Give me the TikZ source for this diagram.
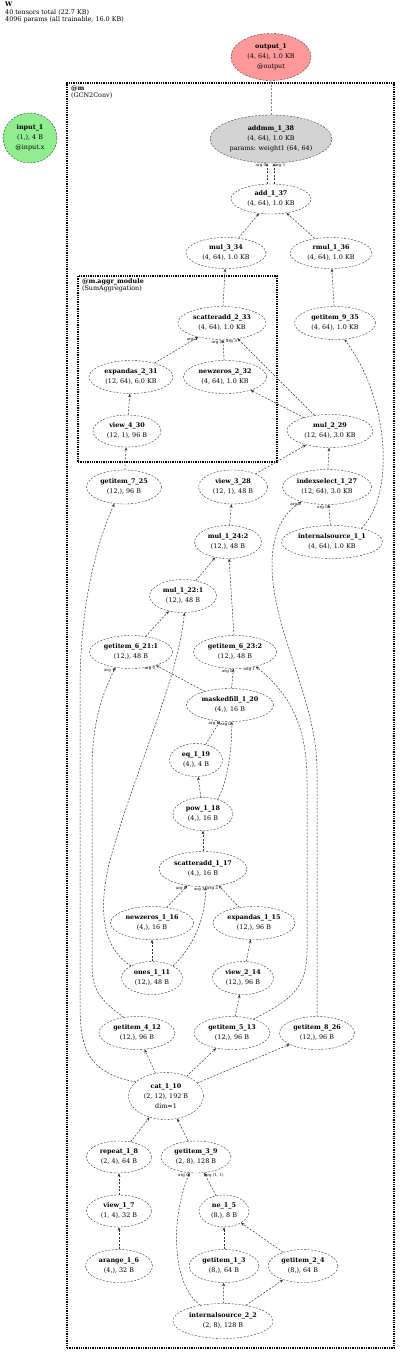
\documentclass[tikz,border=0pt]{standalone}
\usepackage{fontspec}
\setmainfont{DejaVu Serif}
\usetikzlibrary{arrows.meta,shapes.geometric,fit,calc}
\definecolor{outred}{RGB}{255,153,153}
\definecolor{ingreen}{RGB}{144,238,144}
\definecolor{paramgray}{RGB}{211,211,211}
\definecolor{edgegray}{RGB}{50,50,50}

\begin{document}
\begin{tikzpicture}[
    x=1pt, y=1pt,
    tensor/.style={draw=edgegray, dash pattern=on 2pt off 1.5pt, ellipse, inner sep=0pt, align=center, minimum height=33pt, font=\fontsize{6.4}{10}\selectfont},
    module/.style={draw=black, line width=2.2pt, dash pattern=on 1.3pt off 1pt, inner sep=0pt},
    modlbl/.style={anchor=north west, align=left, inner sep=0pt, font=\fontsize{6.4}{7.4}\selectfont},
    flow/.style={draw=edgegray, line width=0.5pt, dash pattern=on 2pt off 1.5pt, -{Stealth[length=3.5pt, width=2.8pt]}},
    arglbl/.style={font=\fontsize{4}{4}\selectfont, inner sep=0.5pt}
]
\useasboundingbox (0,0) rectangle (400,-1356);

\node[modlbl] (title) at (5,-2) {\textbf{W}\\40 tensors total (22.7 KB)\\4096 params (all trainable, 16.0 KB)};

% module boxes
\node[module, fit={(67,-83) (394,-1348)}] (mbox) {};
\node[modlbl] (mname) at ([xshift=5pt,yshift=-3.5pt]mbox.north west) {\textbf{@m}\\(GCN2Conv)};
\node[module, fit={(78,-276) (277,-462)}] (aggbox) {};
\node[modlbl] (aggname) at ([xshift=5pt,yshift=-3.5pt]aggbox.north west) {\textbf{@m.aggr\_module}\\(SumAggregation)};

% tensors
\node[tensor, fill=outred, minimum width=80pt, minimum height=47pt] (output) at (271,-57) {\textbf{output\_1}\\(4, 64), 1.0 KB\\@output};
\node[tensor, fill=ingreen, minimum width=54pt, minimum height=50pt] (input) at (30,-138) {\textbf{input\_1}\\(1,), 4 B\\@input.x};
\node[tensor, fill=paramgray, minimum width=122pt, minimum height=48pt] (addmm) at (271,-139) {\textbf{addmm\_1\_38}\\(4, 64), 1.0 KB\\params: weight1 (64, 64)};
\node[tensor, minimum width=80pt, minimum height=30pt] (add) at (271,-199) {\textbf{add\_1\_37}\\(4, 64), 1.0 KB};
\node[tensor, minimum width=80pt, minimum height=31pt] (mul3) at (226,-253) {\textbf{mul\_3\_34}\\(4, 64), 1.0 KB};
\node[tensor, minimum width=82pt, minimum height=31pt] (rmul) at (331,-253) {\textbf{rmul\_1\_36}\\(4, 64), 1.0 KB};
\node[tensor, minimum width=88pt] (sa2) at (222,-323) {\textbf{scatteradd\_2\_33}\\(4, 64), 1.0 KB};
\node[tensor, minimum width=81pt] (gi935) at (335,-323) {\textbf{getitem\_9\_35}\\(4, 64), 1.0 KB};
\node[tensor, minimum width=84pt] (ea231) at (131,-377) {\textbf{expandas\_2\_31}\\(12, 64), 6.0 KB};
\node[tensor, minimum width=83pt] (nz232) at (225,-377) {\textbf{newzeros\_2\_32}\\(4, 64), 1.0 KB};
\node[tensor, minimum width=68pt, minimum height=32pt] (v430) at (127,-431) {\textbf{view\_4\_30}\\(12, 1), 96 B};
\node[tensor, minimum width=86pt] (mul229) at (330,-431) {\textbf{mul\_2\_29}\\(12, 64), 3.0 KB};
\node[tensor, minimum width=75pt, minimum height=34pt] (gi725) at (124,-487) {\textbf{getitem\_7\_25}\\(12,), 96 B};
\node[tensor, minimum width=69pt, minimum height=34pt] (v328) at (233,-487) {\textbf{view\_3\_28}\\(12, 1), 48 B};
\node[tensor, minimum width=89pt, minimum height=35pt] (is127) at (327,-487) {\textbf{indexselect\_1\_27}\\(12, 64), 3.0 KB};
\node[tensor, minimum width=67pt, minimum height=33pt] (mul1242) at (228,-542) {\textbf{mul\_1\_24:2}\\(12,), 48 B};
\node[tensor, minimum width=101pt, minimum height=33pt] (is11) at (332,-542) {\textbf{internalsource\_1\_1}\\(4, 64), 1.0 KB};
\node[tensor, minimum width=67pt] (mul1221) at (183,-596) {\textbf{mul\_1\_22:1}\\(12,), 48 B};
\node[tensor, minimum width=83pt] (gi6211) at (131,-652) {\textbf{getitem\_6\_21:1}\\(12,), 48 B};
\node[tensor, minimum width=83pt] (gi6232) at (235,-652) {\textbf{getitem\_6\_23:2}\\(12,), 48 B};
\node[tensor, minimum width=87pt] (mf) at (230,-705) {\textbf{maskedfill\_1\_20}\\(4,), 16 B};
\node[tensor, minimum width=53pt] (eq) at (196,-760) {\textbf{eq\_1\_19}\\(4,), 4 B};
\node[tensor, minimum width=60pt] (pow) at (203,-814) {\textbf{pow\_1\_18}\\(4,), 16 B};
\node[tensor, minimum width=88pt, minimum height=35pt] (sa117) at (203,-869) {\textbf{scatteradd\_1\_17}\\(4,), 16 B};
\node[tensor, minimum width=83pt] (nz116) at (152,-923) {\textbf{newzeros\_1\_16}\\(4,), 16 B};
\node[tensor, minimum width=82pt] (ex115) at (254,-923) {\textbf{expandas\_1\_15}\\(12,), 96 B};
\node[tensor, minimum width=61pt] (ones) at (152,-978) {\textbf{ones\_1\_11}\\(12,), 48 B};
\node[tensor, minimum width=61pt] (v214) at (243,-978) {\textbf{view\_2\_14}\\(12,), 96 B};
\node[tensor, minimum width=76pt] (gi412) at (137,-1033) {\textbf{getitem\_4\_12}\\(12,), 96 B};
\node[tensor, minimum width=76pt] (gi513) at (232,-1033) {\textbf{getitem\_5\_13}\\(12,), 96 B};
\node[tensor, minimum width=75pt] (gi826) at (317,-1033) {\textbf{getitem\_8\_26}\\(12,), 96 B};
\node[tensor, minimum width=75pt, minimum height=47pt] (cat) at (166,-1096) {\textbf{cat\_1\_10}\\(2, 12), 192 B\\dim=1};
\node[tensor, minimum width=65pt, minimum height=32pt] (rep) at (119,-1157) {\textbf{repeat\_1\_8}\\(2, 4), 64 B};
\node[tensor, minimum width=70pt, minimum height=32pt] (gi39) at (196,-1157) {\textbf{getitem\_3\_9}\\(2, 8), 128 B};
\node[tensor, minimum width=65pt, minimum height=32pt] (v17) at (119,-1211) {\textbf{view\_1\_7}\\(1, 4), 32 B};
\node[tensor, minimum width=50pt, minimum height=32pt] (ne) at (224,-1211) {\textbf{ne\_1\_5}\\(8,), 8 B};
\node[tensor, minimum width=67pt] (ar16) at (119,-1266) {\textbf{arange\_1\_6}\\(4,), 32 B};
\node[tensor, minimum width=70pt] (gi13) at (224,-1266) {\textbf{getitem\_1\_3}\\(8,), 64 B};
\node[tensor, minimum width=70pt] (gi24) at (303,-1266) {\textbf{getitem\_2\_4}\\(8,), 64 B};
\node[tensor, minimum width=100pt, minimum height=35pt] (is22) at (223,-1321) {\textbf{internalsource\_2\_2}\\(2, 8), 128 B};

% edges, bottom up
\draw[flow] (is22) -- (gi13);
\draw[flow] (is22) -- (gi24);
\draw[flow] (is22.145) .. controls (172,-1285) and (170,-1220) .. (gi39.-112) node[arglbl, pos=1, anchor=north east] {arg 0};
\draw[flow] (gi13) -- (ne);
\draw[flow] (gi24) -- (ne);
\draw[flow] (ne) -- (gi39) node[arglbl, pos=1, anchor=north west] {arg (1, 1)};
\draw[flow] (ar16) -- (v17);
\draw[flow] (v17) -- (rep);
\draw[flow] (rep) -- (cat);
\draw[flow] (gi39) -- (cat);
\draw[flow] (cat) -- (gi412);
\draw[flow] (cat) -- (gi513);
\draw[flow] (cat) -- (gi826);
\draw[flow] (cat.155) .. controls (84,-1072) and (80,-1045) .. (80,-1000) -- (80,-690) .. controls (80,-600) and (98,-540) .. (gi725.-120);
\draw[flow] (gi513) -- (v214);
\draw[flow] (v214) -- (ex115);
\draw[flow] (ones) -- (nz116);
\draw[flow] (nz116) -- (sa117) node[arglbl, pos=1, anchor=north east] {arg 0};
\draw[flow] (ones.30) .. controls (195,-945) and (206,-915) .. (sa117.-82) node[arglbl, pos=1, anchor=north east] {arg 3};
\draw[flow] (ex115) -- (sa117) node[arglbl, pos=1, anchor=north east] {arg 2};
\draw[flow] (sa117) -- (pow);
\draw[flow] (pow) -- (eq);
\draw[flow] (eq) -- (mf) node[arglbl, pos=1, anchor=north east] {arg 1};
\draw[flow] (pow.45) .. controls (226,-785) and (232,-755) .. (mf.-84) node[arglbl, pos=1, anchor=north east] {arg 0};
\draw[flow] (mf) -- (gi6211) node[arglbl, pos=1, anchor=north east] {arg 0};
\draw[flow] (mf) -- (gi6232) node[arglbl, pos=1, anchor=north east] {arg 0};
\draw[flow] (gi412.130) .. controls (100,-1000) and (92,-990) .. (92,-965) -- (92,-770) .. controls (92,-720) and (104,-690) .. (gi6211.225) node[arglbl, pos=1, anchor=north east] {arg 1};
\draw[flow] (gi513.33) .. controls (290,-1000) and (307,-990) .. (307,-950) -- (307,-780) .. controls (307,-720) and (285,-690) .. (gi6232.-35) node[arglbl, pos=1, anchor=north east] {arg 1};
\draw[flow] (ones.150) .. controls (98,-945) and (100,-900) .. (110,-860) .. controls (135,-770) and (178,-680) .. (mul1221.-85);
\draw[flow] (gi6211) -- (mul1221);
\draw[flow] (mul1221) -- (mul1242);
\draw[flow] (gi6232) -- (mul1242);
\draw[flow] (mul1242) -- (v328);
\draw[flow] (gi826.north) -- (317,-770) .. controls (317,-700) and (272,-630) .. (272,-565) .. controls (272,-530) and (285,-512) .. (is127.-150) node[arglbl, pos=1, anchor=north east] {arg 2};
\draw[flow] (is11) -- (is127) node[arglbl, pos=1, anchor=north east] {arg 0};
\draw[flow] (is11.25) .. controls (395,-495) and (390,-400) .. (gi935.-60);
\draw[flow] (gi725) -- (v430);
\draw[flow] (v328) -- (mul229);
\draw[flow] (is127) -- (mul229);
\draw[flow] (v430) -- (ea231);
\draw[flow] (mul229) -- (nz232);
\draw[flow] (ea231) -- (sa2) node[arglbl, pos=1, anchor=north east] {arg 2};
\draw[flow] (nz232) -- (sa2) node[arglbl, pos=1, anchor=north east] {arg 0};
\draw[flow] (mul229) -- (sa2) node[arglbl, pos=1, anchor=north east] {arg 3};
\draw[flow] (gi935) -- (rmul);
\draw[flow] (sa2) -- (mul3);
\draw[flow] (mul3) -- (add);
\draw[flow] (rmul) -- (add);
\draw[flow] ([xshift=-4pt]add.north) -- ([xshift=-4pt]addmm.south) node[arglbl, pos=1, anchor=north east] {arg 0};
\draw[flow] ([xshift=3pt]add.north) -- ([xshift=3pt]addmm.south) node[arglbl, pos=1, anchor=north west] {arg 1};
\draw[flow, draw=gray] (addmm) -- (output);
\end{tikzpicture}
\end{document}
